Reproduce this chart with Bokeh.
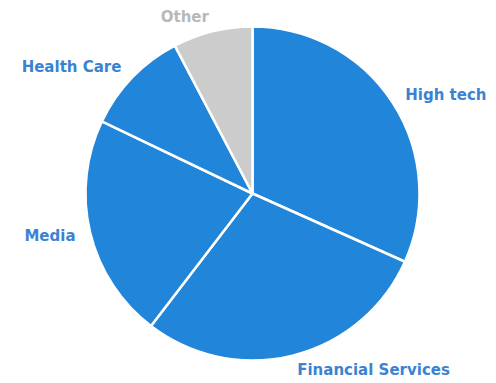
import math
from bokeh.plotting import figure
from bokeh.models import Range1d, ColumnDataSource
from bokeh.core.properties import value
from bokeh.embed import file_html
from bokeh.resources import INLINE

categories = ["High tech", "Financial Services", "Media", "Health Care", "Other"]
shares = [31.7, 28.7, 21.7, 10.2, 7.7]
colors = ["#2185d9", "#2185d9", "#2185d9", "#2185d9", "#cccccc"]
label_colors = ["#3b82d2", "#3b82d2", "#3b82d2", "#3b82d2", "#b8b8b8"]

W, H = 496, 383
cx, cy, R = 252, 190, 167
label_gap = 15

total = sum(shares)
starts, ends, lx, ly, aligns = [], [], [], [], []
cum = 0.0
for s in shares:
    a0 = math.pi / 2 - 2 * math.pi * cum / total
    cum += s
    a1 = math.pi / 2 - 2 * math.pi * cum / total
    starts.append(a0)
    ends.append(a1)
    mid = (a0 + a1) / 2
    lx.append(cx + (R + label_gap) * math.cos(mid))
    ly.append(cy + (R + label_gap) * math.sin(mid))
    aligns.append("left" if math.cos(mid) > 0 else "right")

src = ColumnDataSource(dict(cat=categories, start=starts, end=ends, color=colors,
                            lx=lx, ly=ly, align=aligns, lcolor=label_colors))

p = figure(width=W, height=H, output_backend="svg", toolbar_location=None,
           x_range=Range1d(0, W), y_range=Range1d(0, H), min_border=0)
p.axis.visible = False
p.grid.visible = False
p.outline_line_color = None
p.background_fill_color = "white"

p.wedge(x=cx, y=cy, radius=R, start_angle="start", end_angle="end", direction="clock",
        fill_color="color", line_color="white", line_width=2.5, source=src)
p.text(x="lx", y="ly", text="cat", text_align="align", text_baseline="middle",
       text_color="lcolor", text_font=value("DejaVu Sans"), text_font_size="15px",
       text_font_style="bold", source=src)

open("out.html", "w").write(file_html(p, INLINE))
